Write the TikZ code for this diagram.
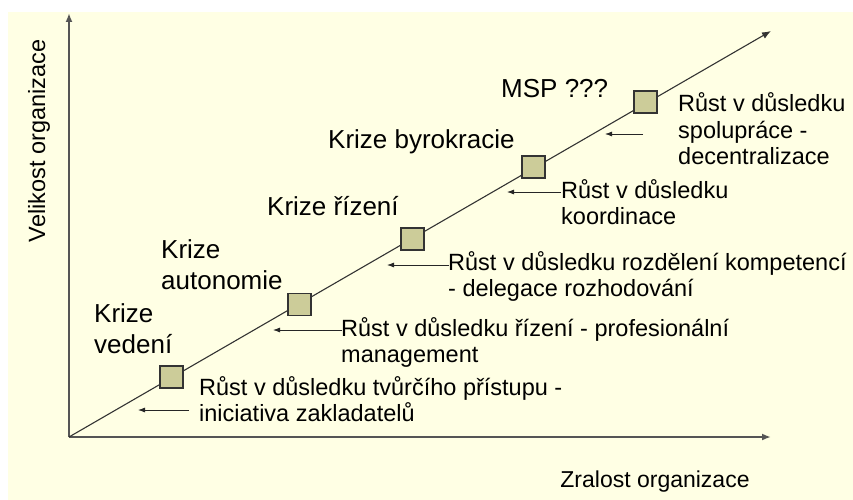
\documentclass[tikz,border=0pt]{standalone}
\usepackage{fontspec}
\setmainfont{Liberation Sans}
\usetikzlibrary{arrows.meta}
\definecolor{paper}{RGB}{255,255,228}
\definecolor{boxfill}{RGB}{204,204,153}
\definecolor{axisgray}{RGB}{85,85,85}

\begin{document}
\begin{tikzpicture}[x=1pt, y=-1pt,
    axis/.style={draw=axisgray, line width=2pt, -{Latex[length=9pt,width=7pt]}},
    trend/.style={draw=black!80, line width=1.1pt, -{Latex[length=9pt,width=7pt]}},
    stage/.style={draw=black!80, fill=boxfill, line width=1.1pt, minimum width=23pt, minimum height=22pt, inner sep=0pt},
    crisis/.style={anchor=base west, align=left, inner sep=0pt, font=\fontsize{26}{30.5}\selectfont},
    growth/.style={anchor=base west, align=left, inner sep=0pt, font=\fontsize{23.5}{26}\selectfont},
    push/.style={draw=black!85, line width=0.8pt, -{Latex[length=7pt,width=5pt]}}]
        % Canvas and background
        \useasboundingbox (0,0) rectangle (853,500);
        \fill[paper] (8,12) rectangle (853,500);

        % Define coordinates
        \coordinate (origin) at (69,437);
        \coordinate (ytop) at (69,13);
        \coordinate (xend) at (771,437);
        \coordinate (dend) at (771,31);

        % Draw the axes and the growth line
        \draw[axis] (origin) -- (ytop);
        \draw[axis] (origin) -- (xend);
        \draw[trend] (origin) -- (dend);

        % Axis labels
        \node[rotate=90, inner sep=0pt, font=\fontsize{23.5}{28}\selectfont] (ylab) at (39,141) {Velikost organizace};
        \node[anchor=base, inner sep=0pt, font=\fontsize{23}{28}\selectfont] (xlab) at (655,487) {Zralost organizace};

        % Stages on the line
        \node[stage] (s1) at (171.5,377) {};
        \node[stage] (s2) at (299.5,304.5) {};
        \node[stage] (s3) at (412.5,239) {};
        \node[stage] (s4) at (533.5,167) {};
        \node[stage] (s5) at (645.5,102) {};

        % Crises (base = last line)
        \node[crisis] (c1) at (94,353) {Krize\\vedení};
        \node[crisis] (c2) at (161,289) {Krize\\autonomie};
        \node[crisis] (c3) at (267,215) {Krize řízení};
        \node[crisis] (c4) at (328,148) {Krize byrokracie};
        \node[crisis] (c5) at (501,98) {MSP ???};

        % Growth phases (base = last line)
        \node[growth] (g1) at (199,421) {Růst v důsledku tvůrčího přístupu -\\iniciativa zakladatelů};
        \node[growth] (g2) at (341,362) {Růst v důsledku řízení - profesionální\\management};
        \node[growth] (g3) at (448,296) {Růst v důsledku rozdělení kompetencí\\- delegace rozhodování};
        \node[growth] (g4) at (561,224) {Růst v důsledku\\koordinace};
        \node[growth] (g5) at (678,164) {Růst v důsledku\\spolupráce -\\decentralizace};

        % Short arrows towards the line
        \coordinate (a1) at (189,410); \coordinate (b1) at (138,410);
        \coordinate (a2) at (342,330); \coordinate (b2) at (273,330);
        \coordinate (a3) at (449,265); \coordinate (b3) at (387,265);
        \coordinate (a4) at (561,192); \coordinate (b4) at (507,192);
        \coordinate (a5) at (643,134); \coordinate (b5) at (605,134);
        \foreach \i in {1,...,5}
            \draw[push] (a\i) -- (b\i);
\end{tikzpicture}
\end{document}
